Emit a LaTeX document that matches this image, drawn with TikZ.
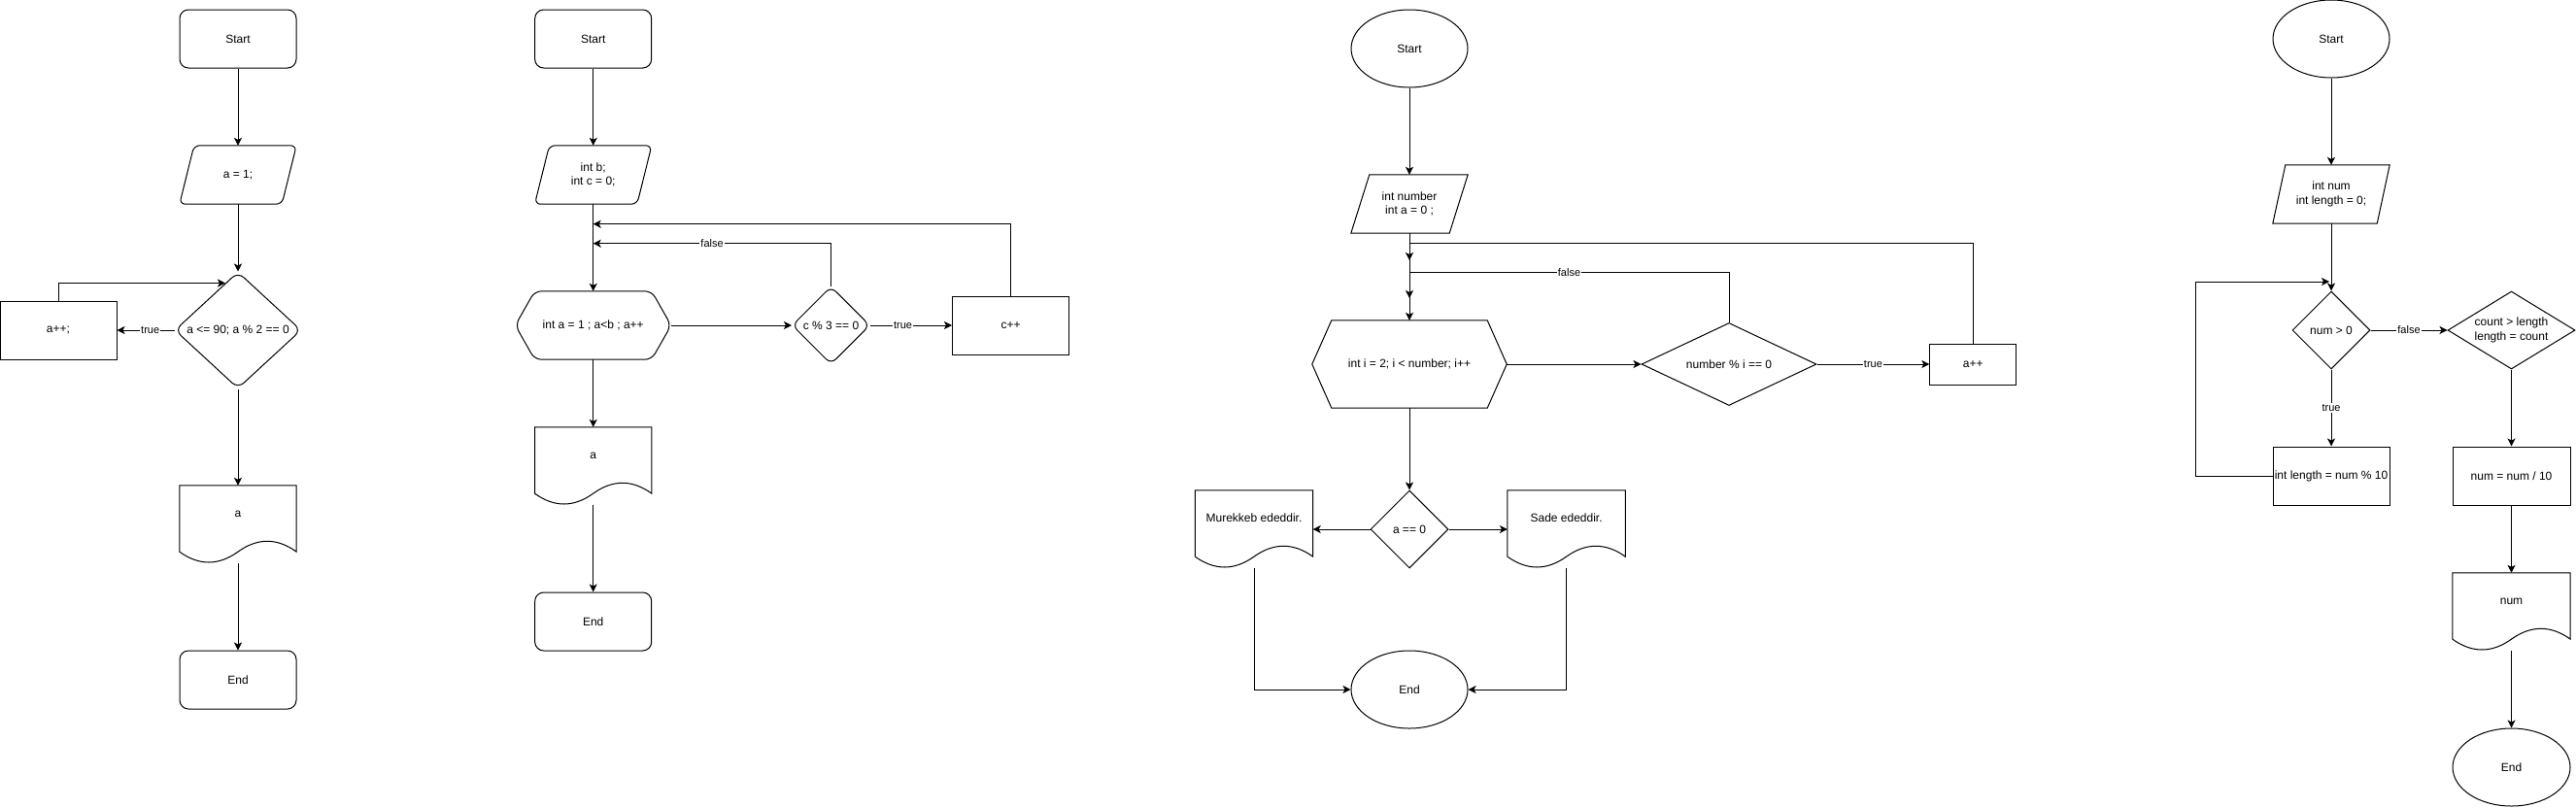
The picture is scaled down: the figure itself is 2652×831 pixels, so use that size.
\documentclass[tikz,border=0pt]{standalone}
\usepackage{fontspec}
\setmainfont{Liberation Sans}
\usetikzlibrary{shapes.geometric,arrows.meta,calc}

\newcommand{\iooutline}[3][]{%
  \draw[shapeline,#1] let \p1=(#2.north west), \p2=(#2.south east) in
    ({\x1+#3},\y1) -- (\x2,\y1) -- ({\x2-#3},\y2) -- (\x1,\y2) -- cycle;}
\newcommand{\hexoutline}[3][]{%
  \draw[shapeline,#1] let \p1=(#2.north west), \p2=(#2.south east) in
    (\x1,{(\y1+\y2)/2}) -- ({\x1+#3},\y1) -- ({\x2-#3},\y1)
    -- (\x2,{(\y1+\y2)/2}) -- ({\x2-#3},\y2) -- ({\x1+#3},\y2) -- cycle;}
\newcommand{\docoutline}[1]{%
  \draw[shapeline] let \p1=(#1.north west), \p2=(#1.south east),
    \n1={\x2-\x1}, \n2={\y1-\y2} in
    (\x1,\y1) -- (\x2,\y1) -- (\x2,{\y2+0.15*\n2})
    .. controls ({\x2-\n1/6},{\y2+0.33*\n2}) and ({\x1+2*\n1/3},{\y2+0.33*\n2}) .. ({\x1+\n1/2},{\y2+0.15*\n2})
    .. controls ({\x1+\n1/3},{\y2-0.03*\n2}) and ({\x1+\n1/6},{\y2-0.03*\n2}) .. (\x1,{\y2+0.15*\n2})
    -- cycle;}

\begin{document}
\begin{tikzpicture}
[
  x=1pt, y=-1pt,
  every node/.style={font=\fontsize{12pt}{14.5pt}\selectfont, inner sep=1pt, align=center},
  shapeline/.style={line width=1pt},
  arr/.style={line width=1pt, -{Stealth[length=8pt,width=8pt,inset=2pt]}},
  lbl/.style={fill=white, inner sep=1pt, font=\fontsize{11pt}{13pt}\selectfont},
  term/.style={draw, shapeline, rounded corners=9pt, minimum width=120pt, minimum height=60pt},
  oval/.style={draw, shapeline, ellipse, minimum width=120pt, minimum height=80pt},
  proc/.style={draw, shapeline, rectangle, minimum width=120pt, minimum height=60pt},
  cond/.style={draw, shapeline, diamond, minimum width=80pt, minimum height=80pt},
  plain/.style={rectangle, minimum width=120pt, minimum height=60pt},
  docbox/.style={rectangle, minimum width=120pt, minimum height=80pt, text height=8pt, text depth=23.5pt},
]
\useasboundingbox (0,0) rectangle (2652,831);

\node[term] (s1) at (245,40) {Start};
\node[plain] (in1) at (245,180) {a = 1;};
\iooutline[rounded corners=6pt]{in1}{15pt}
\node[cond, rounded corners=8pt, minimum width=130pt, minimum height=120pt, shape aspect=1.08] (d1) at (245,340) {a <= 90; a \% 2 == 0};
\node[proc] (r1) at (60,340) {a++;};
\node[docbox] (o1) at (245,540) {a};
\docoutline{o1}
\node[term] (e1) at (245,700) {End};

\draw[arr] (s1) -- (in1);
\draw[arr] (in1) -- (d1);
\draw[arr] (d1) -- node[lbl, pos=0.42]{true} (r1);
\draw[arr] (r1.north) |- (d1.105);
\draw[arr] (d1) -- (o1);
\draw[arr] (o1) -- (e1);

\node[term] (s2) at (610.7,40) {Start};
\node[plain] (in2) at (610.7,180) {int b;\\int c = 0;};
\iooutline[rounded corners=6pt]{in2}{15pt}
\node[plain, minimum width=160pt, minimum height=70pt] (h2) at (610.7,335) {int a = 1 ; a<b ; a++};
\hexoutline[rounded corners=7pt]{h2}{20pt}
\node[cond, rounded corners=7pt] (d2) at (855.5,335) {c \% 3 == 0};
\node[proc] (r2) at (1040.5,335) {c++};
\node[docbox] (o2) at (610.7,480) {a};
\docoutline{o2}
\node[term] (e2) at (610.7,640) {End};
\coordinate (j2a) at (610.7,230.7);
\coordinate (j2b) at (610.7,250.7);

\draw[arr] (s2) -- (in2);
\draw[arr] (in2) -- (h2);
\draw[arr] (r2.north) |- (j2a);
\draw[arr] (d2.north) |- node[lbl, pos=0.75]{false} (j2b);
\draw[arr] (h2) -- (d2);
\draw[arr] (d2) -- node[lbl, pos=0.4]{true} (r2);
\draw[arr] (h2) -- (o2);
\draw[arr] (o2) -- (e2);

\node[oval] (s3) at (1451,50) {Start};
\node[plain] (in3) at (1451,210) {int number\\int a = 0 ;};
\iooutline{in3}{19pt}
\node[plain, minimum width=200pt, minimum height=90pt] (h3) at (1451,375) {int i = 2; i < number; i++};
\hexoutline{h3}{20pt}
\node[cond, minimum width=180pt, minimum height=85pt, shape aspect=2.1] (d3) at (1780,375) {number \% i == 0};
\node[proc, minimum width=89pt, minimum height=42pt] (r3) at (2031.3,375) {a++};
\node[cond] (d4) at (1451,545) {a == 0};
\node[docbox, minimum width=121pt] (oL) at (1291,545) {Murekkeb ededdir.};
\docoutline{oL}
\node[docbox, minimum width=121pt] (oR) at (1612.6,545) {Sade ededdir.};
\docoutline{oR}
\node[oval] (e3) at (1451,710) {End};
\coordinate (k3a) at (1451,250.7);
\coordinate (j3a) at (1451,268);
\coordinate (k3b) at (1451,280.7);
\coordinate (j3b) at (1451,307);

\draw[arr] (s3) -- (in3);
\draw[arr] (in3) -- (h3);
\draw[arr] (r3.north) |- (k3a) -- (j3a);
\draw[arr] (d3.north) |- node[lbl, pos=0.75]{false} (k3b) -- (j3b);
\draw[arr] (h3) -- (d3);
\draw[arr] (d3) -- node[lbl]{true} (r3);
\draw[arr] (h3) -- (d4);
\draw[arr] (d4) -- (oL);
\draw[arr] (d4) -- (oR);
\draw[arr] (oL.south) |- (e3);
\draw[arr] (oR.south) |- (e3);

\node[oval] (s4) at (2400,40) {Start};
\node[plain] (in4) at (2400,200) {int num\\int length = 0;};
\iooutline{in4}{13pt}
\node[cond] (d5) at (2400,340) {num > 0};
\node[cond, minimum width=131pt, shape aspect=1.64] (d6) at (2585.5,340) {count > length\\length = count};
\node[proc] (r4) at (2400,490) {int length = num \% 10};
\node[proc, minimum width=121pt] (r5) at (2585.5,490) {num = num / 10};
\node[docbox, minimum width=121pt] (o4) at (2585.5,630) {num};
\docoutline{o4}
\node[oval, minimum width=121pt] (e4) at (2585.5,790) {End};
\coordinate (k4) at (2260.5,290);
\coordinate (j4) at (2398,290);

\draw[arr] (s4) -- (in4);
\draw[arr] (in4) -- (d5);
\draw[arr] (d5) -- node[lbl]{false} (d6);
\draw[arr] (d5) -- node[lbl]{true} (r4);
\draw[arr] (r4.west) -| (k4) -- (j4);
\draw[arr] (d6) -- (r5);
\draw[arr] (r5) -- (o4);
\draw[arr] (o4) -- (e4);

\end{tikzpicture}
\end{document}
